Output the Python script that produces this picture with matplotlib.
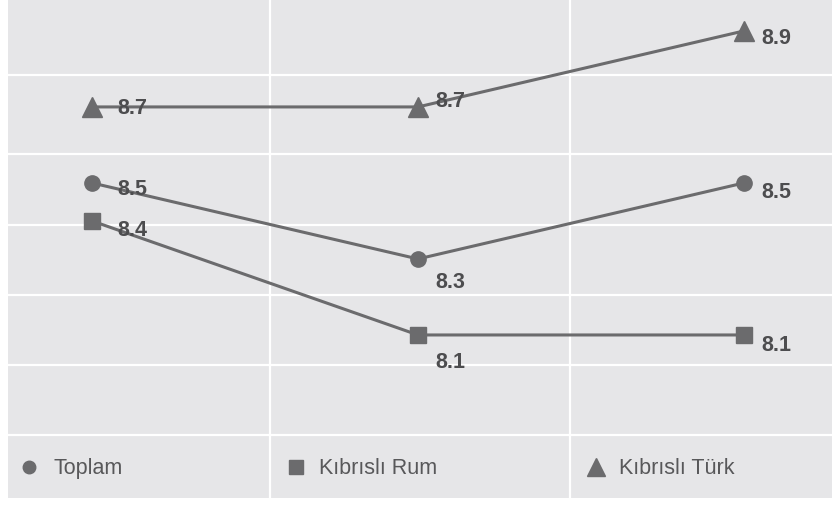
import matplotlib.pyplot as plt
import matplotlib

matplotlib.use('Agg')

plt.rcParams['font.family'] = ['Liberation Sans', 'DejaVu Sans']

# three survey columns, no visible category labels
columns = [0, 1, 2]
series_names = ["Toplam", "Kıbrıslı Rum", "Kıbrıslı Türk"]
toplam = [8.5, 8.3, 8.5]
kibrisli_rum = [8.4, 8.1, 8.1]
kibrisli_turk = [8.7, 8.7, 8.9]

# styling / layout
LINE_COLOR = "#6b6b6d"
TEXT_COLOR = "#4d4d4f"
BG_COLOR = "#e6e6e8"
markers = ["o", "s", "^"]
marker_sizes = [11, 11, 14]
legend_marker_sizes = [9, 9.5, 13.5]
# label offsets in pixels (dx, dy) for each point
label_offsets = [
    [(25, -6), (17, -23), (17, -9)],
    [(25, -9), (17, -27), (17, -10)],
    [(25, -1), (17, 6), (17, -7)],
]
legend_x = [0.026, 0.350, 0.713]
legend_text_x = [0.055, 0.377, 0.742]

W, H = 832, 506
fig = plt.figure(figsize=(W / 100, H / 100), dpi=100)
fig.patch.set_facecolor("white")
ax = fig.add_axes([8 / W, 7 / H, 824 / W, 499 / H])
ax.set_facecolor(BG_COLOR)

ax.set_xlim(-0.2577, 2.270)
ax.set_ylim(7.671, 8.984)

# white grid lines (decorative, independent of the values)
for gx in [0.546, 1.466]:
    ax.axvline(gx, color="white", lw=1.6, zorder=1)
for gy in [8.784, 8.576, 8.389, 8.205, 8.021, 7.837]:
    ax.axhline(gy, color="white", lw=1.6, zorder=1)

all_series = [toplam, kibrisli_rum, kibrisli_turk]
for k, vals in enumerate(all_series):
    ax.plot(columns, vals, color=LINE_COLOR, lw=2.2, zorder=2)
    ax.plot(columns, vals, linestyle="none", marker=markers[k],
            markersize=marker_sizes[k], color=LINE_COLOR, zorder=3)
    for i, v in enumerate(vals):
        dx, dy = label_offsets[k][i]
        ax.annotate(f"{v:.1f}", (columns[i], v), xytext=(dx, dy),
                    textcoords="offset pixels", ha="left", va="center",
                    fontsize=15.5, fontweight="bold", color=TEXT_COLOR, zorder=4)

# legend row at the bottom band
for k, name in enumerate(series_names):
    ax.plot([legend_x[k]], [0.062], marker=markers[k], linestyle="none",
            markersize=legend_marker_sizes[k], color=LINE_COLOR,
            transform=ax.transAxes, clip_on=False, zorder=3)
    ax.text(legend_text_x[k], 0.062, name, transform=ax.transAxes,
            ha="left", va="center", fontsize=15.5, color="#58585a")

ax.set_xticks([])
ax.set_yticks([])
for s in ax.spines.values():
    s.set_visible(False)

fig.savefig("out.png", dpi=100, facecolor=fig.get_facecolor())
